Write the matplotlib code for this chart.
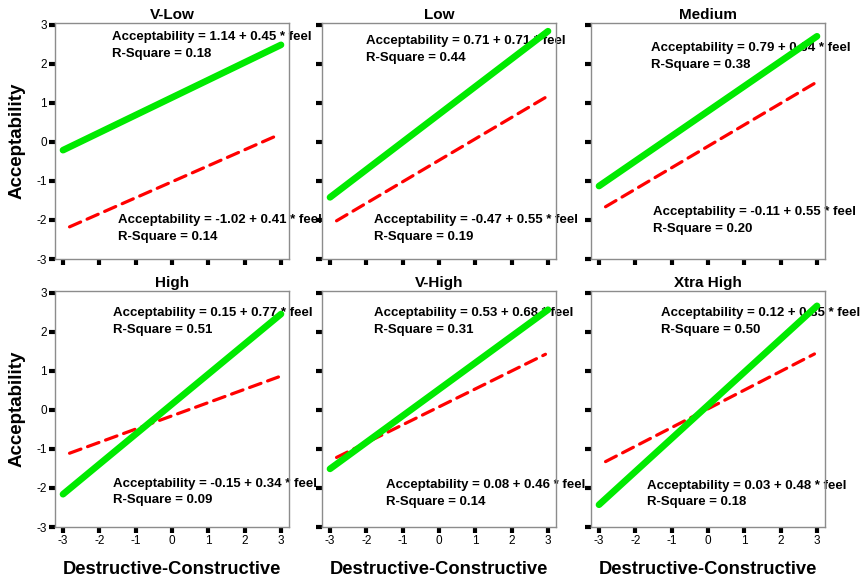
import matplotlib.pyplot as plt
import numpy as np

plt.rcParams['font.family'] = ['Liberation Sans', 'DejaVu Sans']
plt.rcParams['axes.unicode_minus'] = False

titles = ["V-Low", "Low", "Medium", "High", "V-High", "Xtra High"]
# green (solid) fit: intercept, slope, r-square
g_int = [1.14, 0.71, 0.79, 0.15, 0.53, 0.12]
g_slope = [0.45, 0.71, 0.64, 0.77, 0.68, 0.85]
g_r2 = [0.18, 0.44, 0.38, 0.51, 0.31, 0.50]
# red (dashed) fit
r_int = [-1.02, -0.47, -0.11, -0.15, 0.08, 0.03]
r_slope = [0.41, 0.55, 0.55, 0.34, 0.46, 0.48]
r_r2 = [0.14, 0.19, 0.20, 0.09, 0.14, 0.18]
g_range = [-3, 3]
r_range = [-2.82, 2.93]
# label anchors (x, y of first line) in data coords
g_pos = [(-1.65, 2.69), (-2.0, 2.59), (-1.58, 2.41), (-1.62, 2.48), (-1.78, 2.48), (-1.28, 2.48)]
r_pos = [(-1.49, -2.0), (-1.78, -2.0), (-1.5, -1.79), (-1.62, -1.89), (-1.45, -1.92), (-1.69, -1.94)]

W, H = 863, 579
fig = plt.figure(figsize=(W / 100, H / 100), dpi=100)
lefts = [55, 322, 591]
tops = [23, 291]
pw, ph = 234, 236

for i in range(6):
    row, col = divmod(i, 3)
    ax = fig.add_axes([lefts[col] / W, 1 - (tops[row] + ph) / H, pw / W, ph / H])
    x = np.array(g_range)
    ax.plot(x, g_int[i] + g_slope[i] * x, color='#00ea00', lw=4.8, solid_capstyle='round', zorder=3)
    xr = np.array(r_range)
    ax.plot(xr, r_int[i] + r_slope[i] * xr, color='#ff0000', lw=2.3, dashes=(3.8, 2.2),
            dash_capstyle='round', zorder=2)

    gx, gy = g_pos[i]
    ax.text(gx, gy, f"Acceptability = {g_int[i]:.2f} + {g_slope[i]:.2f} * feel",
            fontsize=9.5, fontweight='bold', va='center', ha='left', clip_on=False, zorder=1)
    ax.text(gx, gy - 0.43, f"R-Square = {g_r2[i]:.2f}",
            fontsize=9.5, fontweight='bold', va='center', ha='left', zorder=1)
    rx, ry = r_pos[i]
    ax.text(rx, ry, f"Acceptability = {r_int[i]:.2f} + {r_slope[i]:.2f} * feel",
            fontsize=9.5, fontweight='bold', va='center', ha='left', clip_on=False, zorder=1)
    ax.text(rx, ry - 0.43, f"R-Square = {r_r2[i]:.2f}",
            fontsize=9.5, fontweight='bold', va='center', ha='left', zorder=1)

    ax.set_xlim(-3.22, 3.22)
    ax.set_ylim(-3, 3.05)
    ax.set_xticks(range(-3, 4))
    ax.set_yticks(range(-3, 4))
    ax.tick_params(direction='out', length=4, width=3, color='black', labelsize=8.5, pad=2)
    if col != 0:
        ax.tick_params(labelleft=False)
    else:
        ax.set_ylabel("Acceptability", fontsize=13.5, fontweight='bold', labelpad=8)
    if row == 0:
        ax.tick_params(labelbottom=False)
    else:
        ax.set_xlabel("Destructive-Constructive", fontsize=13.2, fontweight='bold', labelpad=10)
    for s in ax.spines.values():
        s.set_color('#8c8c8c')
        s.set_linewidth(1)
    ax.set_title(titles[i], fontsize=11, fontweight='bold', pad=3)

fig.savefig("out.png", dpi=100)
